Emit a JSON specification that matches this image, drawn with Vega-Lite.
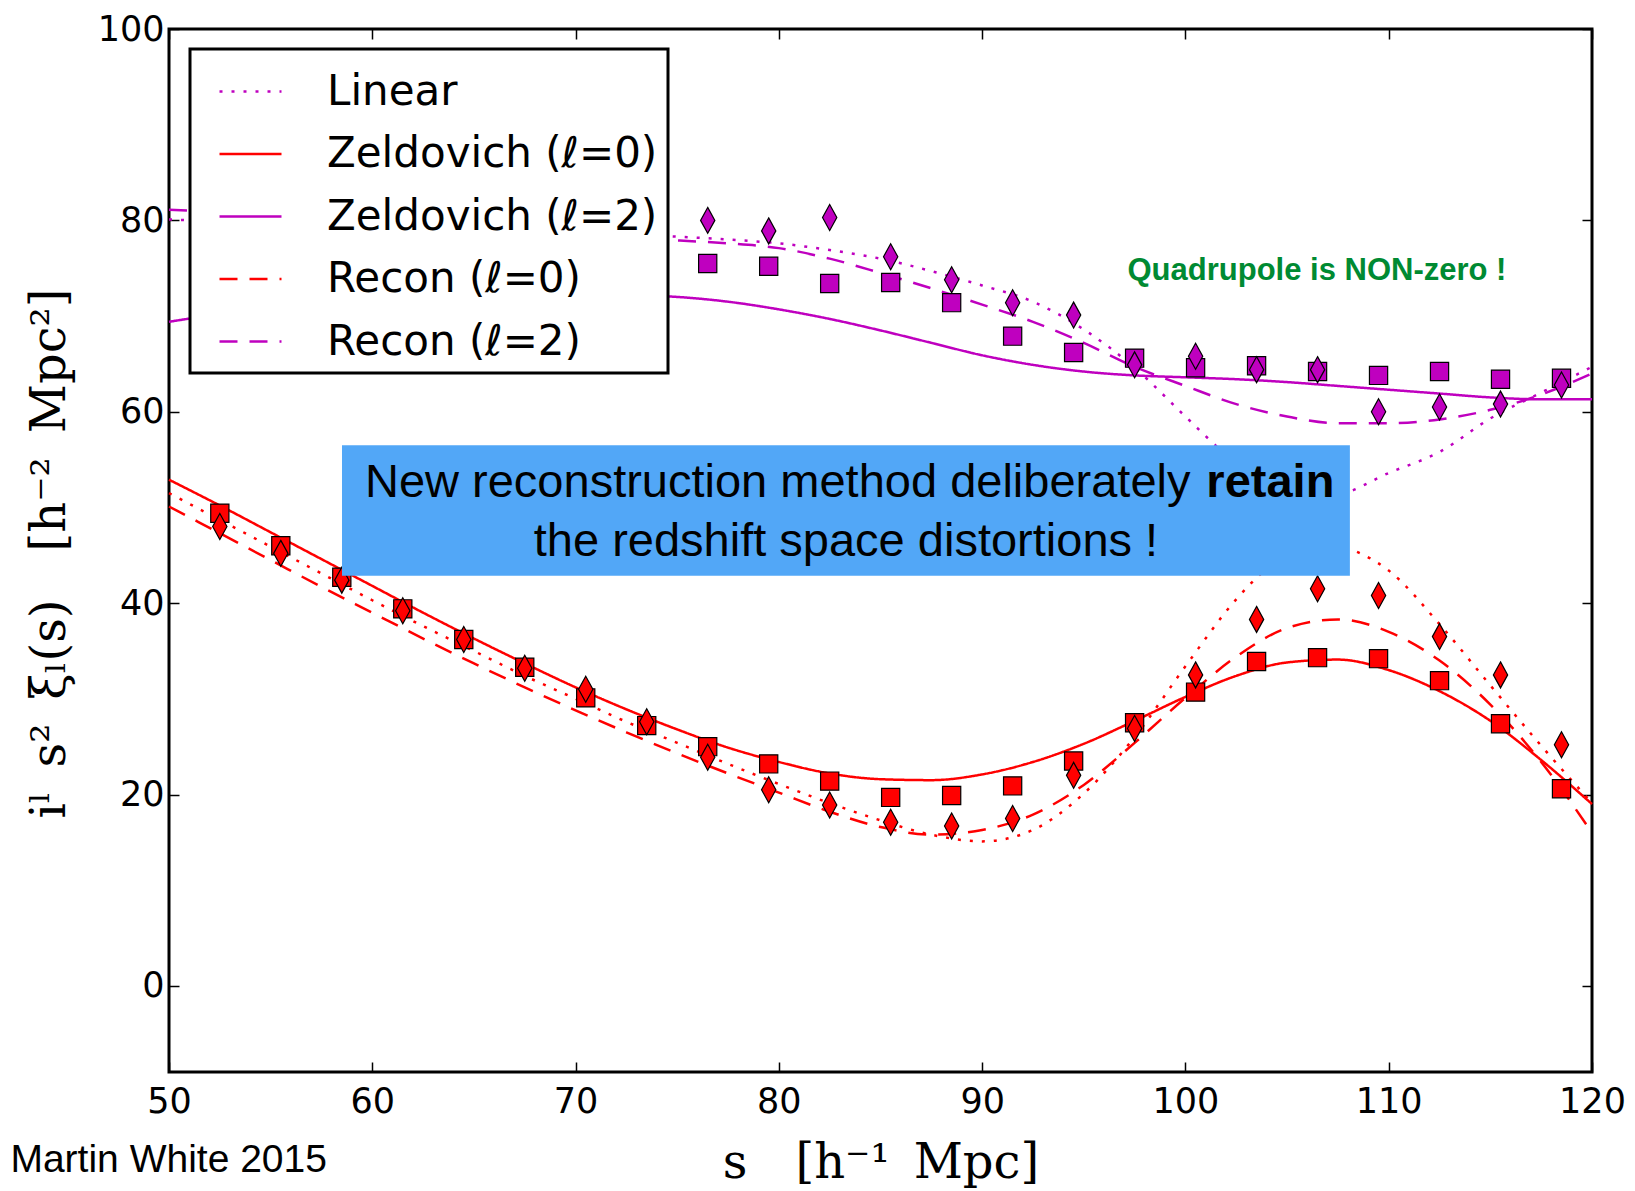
{
  "$schema": "https://vega.github.io/schema/vega-lite/v6.json",
  "width": 1423,
  "height": 1043,
  "autosize": {"type": "none"},
  "padding": {"left": 169, "top": 29, "right": 43, "bottom": 119},
  "background": "white",
  "datasets": {
    "lines": [
      {"series":"Linear","s":50,"v":80.1},{"series":"Linear","s":52.5,"v":79.9},{"series":"Linear","s":55,"v":79.8},{"series":"Linear","s":57.5,"v":79.6},{"series":"Linear","s":60,"v":79.5},{"series":"Linear","s":62.5,"v":79.3},{"series":"Linear","s":65,"v":79.1},{"series":"Linear","s":67.5,"v":78.9},{"series":"Linear","s":70,"v":78.7},{"series":"Linear","s":72.5,"v":78.5},{"series":"Linear","s":75,"v":78.3},{"series":"Linear","s":77.5,"v":78.0},{"series":"Linear","s":80,"v":77.6},{"series":"Linear","s":82.5,"v":76.9},{"series":"Linear","s":85,"v":76.0},{"series":"Linear","s":87.5,"v":74.7},{"series":"Linear","s":90,"v":73.2},{"series":"Linear","s":92.5,"v":71.5},{"series":"Linear","s":95,"v":68.6},{"series":"Linear","s":97.5,"v":64.6},{"series":"Linear","s":100,"v":59.5},{"series":"Linear","s":102,"v":55.5},{"series":"Linear","s":104,"v":52.3},{"series":"Linear","s":106,"v":51.0},{"series":"Linear","s":107.5,"v":51.3},{"series":"Linear","s":110,"v":53.6},{"series":"Linear","s":112.5,"v":55.8},{"series":"Linear","s":115,"v":59.3},{"series":"Linear","s":117.5,"v":62.0},{"series":"Linear","s":120,"v":64.7},
      {"series":"Zeldovich (ℓ=0)","s":50,"v":52.9},{"series":"Zeldovich (ℓ=0)","s":52.5,"v":50.2},{"series":"Zeldovich (ℓ=0)","s":55,"v":47.4},{"series":"Zeldovich (ℓ=0)","s":57.5,"v":44.6},{"series":"Zeldovich (ℓ=0)","s":60,"v":41.8},{"series":"Zeldovich (ℓ=0)","s":62.5,"v":39.0},{"series":"Zeldovich (ℓ=0)","s":65,"v":36.3},{"series":"Zeldovich (ℓ=0)","s":67.5,"v":33.7},{"series":"Zeldovich (ℓ=0)","s":70,"v":31.2},{"series":"Zeldovich (ℓ=0)","s":72.5,"v":28.9},{"series":"Zeldovich (ℓ=0)","s":75,"v":26.8},{"series":"Zeldovich (ℓ=0)","s":77.5,"v":24.9},{"series":"Zeldovich (ℓ=0)","s":80,"v":23.4},{"series":"Zeldovich (ℓ=0)","s":82.5,"v":22.2},{"series":"Zeldovich (ℓ=0)","s":85,"v":21.6},{"series":"Zeldovich (ℓ=0)","s":87.5,"v":21.5},{"series":"Zeldovich (ℓ=0)","s":90,"v":22.1},{"series":"Zeldovich (ℓ=0)","s":92.5,"v":23.4},{"series":"Zeldovich (ℓ=0)","s":95,"v":25.3},{"series":"Zeldovich (ℓ=0)","s":97.5,"v":27.7},{"series":"Zeldovich (ℓ=0)","s":100,"v":30.2},{"series":"Zeldovich (ℓ=0)","s":102.5,"v":32.4},{"series":"Zeldovich (ℓ=0)","s":105,"v":33.8},{"series":"Zeldovich (ℓ=0)","s":107.5,"v":34.1},{"series":"Zeldovich (ℓ=0)","s":110,"v":33.0},{"series":"Zeldovich (ℓ=0)","s":112.5,"v":30.8},{"series":"Zeldovich (ℓ=0)","s":115,"v":27.7},{"series":"Zeldovich (ℓ=0)","s":117.5,"v":23.6},{"series":"Zeldovich (ℓ=0)","s":120,"v":19.0},
      {"series":"Zeldovich (ℓ=2)","s":50,"v":69.4},{"series":"Zeldovich (ℓ=2)","s":52.5,"v":70.2},{"series":"Zeldovich (ℓ=2)","s":55,"v":70.8},{"series":"Zeldovich (ℓ=2)","s":57.5,"v":71.3},{"series":"Zeldovich (ℓ=2)","s":60,"v":71.7},{"series":"Zeldovich (ℓ=2)","s":62.5,"v":72.0},{"series":"Zeldovich (ℓ=2)","s":65,"v":72.2},{"series":"Zeldovich (ℓ=2)","s":67.5,"v":72.3},{"series":"Zeldovich (ℓ=2)","s":70,"v":72.3},{"series":"Zeldovich (ℓ=2)","s":72.5,"v":72.2},{"series":"Zeldovich (ℓ=2)","s":75,"v":72.0},{"series":"Zeldovich (ℓ=2)","s":77.5,"v":71.5},{"series":"Zeldovich (ℓ=2)","s":80,"v":70.7},{"series":"Zeldovich (ℓ=2)","s":82.5,"v":69.7},{"series":"Zeldovich (ℓ=2)","s":85,"v":68.5},{"series":"Zeldovich (ℓ=2)","s":87.5,"v":67.2},{"series":"Zeldovich (ℓ=2)","s":90,"v":65.9},{"series":"Zeldovich (ℓ=2)","s":92.5,"v":64.9},{"series":"Zeldovich (ℓ=2)","s":95,"v":64.2},{"series":"Zeldovich (ℓ=2)","s":97.5,"v":63.8},{"series":"Zeldovich (ℓ=2)","s":100,"v":63.6},{"series":"Zeldovich (ℓ=2)","s":102.5,"v":63.4},{"series":"Zeldovich (ℓ=2)","s":105,"v":63.1},{"series":"Zeldovich (ℓ=2)","s":107.5,"v":62.7},{"series":"Zeldovich (ℓ=2)","s":110,"v":62.3},{"series":"Zeldovich (ℓ=2)","s":112.5,"v":61.9},{"series":"Zeldovich (ℓ=2)","s":115,"v":61.5},{"series":"Zeldovich (ℓ=2)","s":117.5,"v":61.3},{"series":"Zeldovich (ℓ=2)","s":120,"v":61.3},
      {"series":"Recon (ℓ=0)","s":50,"v":50.1},{"series":"Recon (ℓ=0)","s":52.5,"v":47.3},{"series":"Recon (ℓ=0)","s":55,"v":44.5},{"series":"Recon (ℓ=0)","s":57.5,"v":41.7},{"series":"Recon (ℓ=0)","s":60,"v":39.0},{"series":"Recon (ℓ=0)","s":62.5,"v":36.3},{"series":"Recon (ℓ=0)","s":65,"v":33.7},{"series":"Recon (ℓ=0)","s":67.5,"v":31.2},{"series":"Recon (ℓ=0)","s":70,"v":28.8},{"series":"Recon (ℓ=0)","s":72.5,"v":26.5},{"series":"Recon (ℓ=0)","s":75,"v":24.3},{"series":"Recon (ℓ=0)","s":77.5,"v":22.2},{"series":"Recon (ℓ=0)","s":80,"v":20.2},{"series":"Recon (ℓ=0)","s":82.5,"v":18.2},{"series":"Recon (ℓ=0)","s":85,"v":16.6},{"series":"Recon (ℓ=0)","s":87.5,"v":15.8},{"series":"Recon (ℓ=0)","s":90,"v":16.3},{"series":"Recon (ℓ=0)","s":92.5,"v":17.9},{"series":"Recon (ℓ=0)","s":95,"v":21.0},{"series":"Recon (ℓ=0)","s":97.5,"v":25.4},{"series":"Recon (ℓ=0)","s":100,"v":30.1},{"series":"Recon (ℓ=0)","s":102.5,"v":34.4},{"series":"Recon (ℓ=0)","s":105,"v":37.4},{"series":"Recon (ℓ=0)","s":107.5,"v":38.3},{"series":"Recon (ℓ=0)","s":110,"v":37.0},{"series":"Recon (ℓ=0)","s":112.5,"v":34.0},{"series":"Recon (ℓ=0)","s":115,"v":29.4},{"series":"Recon (ℓ=0)","s":117.5,"v":23.4},{"series":"Recon (ℓ=0)","s":120,"v":16.0},
      {"series":"Recon (ℓ=2)","s":50,"v":81.1},{"series":"Recon (ℓ=2)","s":52.5,"v":80.9},{"series":"Recon (ℓ=2)","s":55,"v":80.6},{"series":"Recon (ℓ=2)","s":57.5,"v":80.3},{"series":"Recon (ℓ=2)","s":60,"v":80.0},{"series":"Recon (ℓ=2)","s":62.5,"v":79.6},{"series":"Recon (ℓ=2)","s":65,"v":79.2},{"series":"Recon (ℓ=2)","s":67.5,"v":78.8},{"series":"Recon (ℓ=2)","s":70,"v":78.4},{"series":"Recon (ℓ=2)","s":72.5,"v":78.1},{"series":"Recon (ℓ=2)","s":75,"v":77.9},{"series":"Recon (ℓ=2)","s":77.5,"v":77.6},{"series":"Recon (ℓ=2)","s":80,"v":77.1},{"series":"Recon (ℓ=2)","s":82.5,"v":76.0},{"series":"Recon (ℓ=2)","s":85,"v":74.5},{"series":"Recon (ℓ=2)","s":87.5,"v":72.9},{"series":"Recon (ℓ=2)","s":90,"v":71.2},{"series":"Recon (ℓ=2)","s":92.5,"v":69.4},{"series":"Recon (ℓ=2)","s":95,"v":67.2},{"series":"Recon (ℓ=2)","s":97.5,"v":64.7},{"series":"Recon (ℓ=2)","s":100,"v":62.7},{"series":"Recon (ℓ=2)","s":102.5,"v":60.8},{"series":"Recon (ℓ=2)","s":105,"v":59.5},{"series":"Recon (ℓ=2)","s":107.5,"v":58.8},{"series":"Recon (ℓ=2)","s":110,"v":58.8},{"series":"Recon (ℓ=2)","s":112.5,"v":59.2},{"series":"Recon (ℓ=2)","s":115,"v":60.2},{"series":"Recon (ℓ=2)","s":117.5,"v":61.8},{"series":"Recon (ℓ=2)","s":120,"v":64.0},
      {"series":"Linear (ℓ=0)","s":50,"v":51.5},{"series":"Linear (ℓ=0)","s":52.5,"v":48.7},{"series":"Linear (ℓ=0)","s":55,"v":45.9},{"series":"Linear (ℓ=0)","s":57.5,"v":43.1},{"series":"Linear (ℓ=0)","s":60,"v":40.3},{"series":"Linear (ℓ=0)","s":62.5,"v":37.6},{"series":"Linear (ℓ=0)","s":65,"v":35.0},{"series":"Linear (ℓ=0)","s":67.5,"v":32.4},{"series":"Linear (ℓ=0)","s":70,"v":30.0},{"series":"Linear (ℓ=0)","s":72.5,"v":27.6},{"series":"Linear (ℓ=0)","s":75,"v":25.4},{"series":"Linear (ℓ=0)","s":77.5,"v":23.2},{"series":"Linear (ℓ=0)","s":80,"v":21.1},{"series":"Linear (ℓ=0)","s":82.5,"v":19.1},{"series":"Linear (ℓ=0)","s":85,"v":17.3},{"series":"Linear (ℓ=0)","s":87.5,"v":15.8},{"series":"Linear (ℓ=0)","s":90,"v":15.1},{"series":"Linear (ℓ=0)","s":92.5,"v":16.3},{"series":"Linear (ℓ=0)","s":95,"v":20.1},{"series":"Linear (ℓ=0)","s":97.5,"v":26.0},{"series":"Linear (ℓ=0)","s":100,"v":33.4},{"series":"Linear (ℓ=0)","s":102.5,"v":40.4},{"series":"Linear (ℓ=0)","s":104,"v":43.6},{"series":"Linear (ℓ=0)","s":105.5,"v":45.6},{"series":"Linear (ℓ=0)","s":107,"v":46.2},{"series":"Linear (ℓ=0)","s":108.5,"v":45.3},{"series":"Linear (ℓ=0)","s":110,"v":43.4},{"series":"Linear (ℓ=0)","s":112.5,"v":37.8},{"series":"Linear (ℓ=0)","s":115,"v":31.4},{"series":"Linear (ℓ=0)","s":117.5,"v":25.1},{"series":"Linear (ℓ=0)","s":120,"v":19.1}
    ],
    "pts": [
      {"s":52.5,"v":49.4,"ell":"ℓ=0","est":"square"},{"s":55.5,"v":46.0,"ell":"ℓ=0","est":"square"},{"s":58.5,"v":42.7,"ell":"ℓ=0","est":"square"},{"s":61.5,"v":39.4,"ell":"ℓ=0","est":"square"},{"s":64.5,"v":36.2,"ell":"ℓ=0","est":"square"},{"s":67.5,"v":33.3,"ell":"ℓ=0","est":"square"},{"s":70.5,"v":30.1,"ell":"ℓ=0","est":"square"},{"s":73.5,"v":27.2,"ell":"ℓ=0","est":"square"},{"s":76.5,"v":25.0,"ell":"ℓ=0","est":"square"},{"s":79.5,"v":23.2,"ell":"ℓ=0","est":"square"},{"s":82.5,"v":21.4,"ell":"ℓ=0","est":"square"},{"s":85.5,"v":19.7,"ell":"ℓ=0","est":"square"},{"s":88.5,"v":19.9,"ell":"ℓ=0","est":"square"},{"s":91.5,"v":20.9,"ell":"ℓ=0","est":"square"},{"s":94.5,"v":23.5,"ell":"ℓ=0","est":"square"},{"s":97.5,"v":27.5,"ell":"ℓ=0","est":"square"},{"s":100.5,"v":30.7,"ell":"ℓ=0","est":"square"},{"s":103.5,"v":33.9,"ell":"ℓ=0","est":"square"},{"s":106.5,"v":34.3,"ell":"ℓ=0","est":"square"},{"s":109.5,"v":34.2,"ell":"ℓ=0","est":"square"},{"s":112.5,"v":31.9,"ell":"ℓ=0","est":"square"},{"s":115.5,"v":27.4,"ell":"ℓ=0","est":"square"},{"s":118.5,"v":20.6,"ell":"ℓ=0","est":"square"},
      {"s":76.5,"v":75.5,"ell":"ℓ=2","est":"square"},{"s":79.5,"v":75.2,"ell":"ℓ=2","est":"square"},{"s":82.5,"v":73.4,"ell":"ℓ=2","est":"square"},{"s":85.5,"v":73.5,"ell":"ℓ=2","est":"square"},{"s":88.5,"v":71.4,"ell":"ℓ=2","est":"square"},{"s":91.5,"v":67.9,"ell":"ℓ=2","est":"square"},{"s":94.5,"v":66.2,"ell":"ℓ=2","est":"square"},{"s":97.5,"v":65.6,"ell":"ℓ=2","est":"square"},{"s":100.5,"v":64.6,"ell":"ℓ=2","est":"square"},{"s":103.5,"v":64.8,"ell":"ℓ=2","est":"square"},{"s":106.5,"v":64.2,"ell":"ℓ=2","est":"square"},{"s":109.5,"v":63.8,"ell":"ℓ=2","est":"square"},{"s":112.5,"v":64.2,"ell":"ℓ=2","est":"square"},{"s":115.5,"v":63.4,"ell":"ℓ=2","est":"square"},{"s":118.5,"v":63.5,"ell":"ℓ=2","est":"square"},
      {"s":52.5,"v":48.0,"ell":"ℓ=0","est":"diamond"},{"s":55.5,"v":45.2,"ell":"ℓ=0","est":"diamond"},{"s":58.5,"v":42.4,"ell":"ℓ=0","est":"diamond"},{"s":61.5,"v":39.2,"ell":"ℓ=0","est":"diamond"},{"s":64.5,"v":36.2,"ell":"ℓ=0","est":"diamond"},{"s":67.5,"v":33.2,"ell":"ℓ=0","est":"diamond"},{"s":70.5,"v":31.0,"ell":"ℓ=0","est":"diamond"},{"s":73.5,"v":27.6,"ell":"ℓ=0","est":"diamond"},{"s":76.5,"v":23.9,"ell":"ℓ=0","est":"diamond"},{"s":79.5,"v":20.5,"ell":"ℓ=0","est":"diamond"},{"s":82.5,"v":18.9,"ell":"ℓ=0","est":"diamond"},{"s":85.5,"v":17.1,"ell":"ℓ=0","est":"diamond"},{"s":88.5,"v":16.7,"ell":"ℓ=0","est":"diamond"},{"s":91.5,"v":17.5,"ell":"ℓ=0","est":"diamond"},{"s":94.5,"v":22.0,"ell":"ℓ=0","est":"diamond"},{"s":97.5,"v":26.9,"ell":"ℓ=0","est":"diamond"},{"s":100.5,"v":32.5,"ell":"ℓ=0","est":"diamond"},{"s":103.5,"v":38.3,"ell":"ℓ=0","est":"diamond"},{"s":106.5,"v":41.5,"ell":"ℓ=0","est":"diamond"},{"s":109.5,"v":40.8,"ell":"ℓ=0","est":"diamond"},{"s":112.5,"v":36.5,"ell":"ℓ=0","est":"diamond"},{"s":115.5,"v":32.5,"ell":"ℓ=0","est":"diamond"},{"s":118.5,"v":25.2,"ell":"ℓ=0","est":"diamond"},
      {"s":76.5,"v":80.0,"ell":"ℓ=2","est":"diamond"},{"s":79.5,"v":78.9,"ell":"ℓ=2","est":"diamond"},{"s":82.5,"v":80.3,"ell":"ℓ=2","est":"diamond"},{"s":85.5,"v":76.2,"ell":"ℓ=2","est":"diamond"},{"s":88.5,"v":73.8,"ell":"ℓ=2","est":"diamond"},{"s":91.5,"v":71.4,"ell":"ℓ=2","est":"diamond"},{"s":94.5,"v":70.1,"ell":"ℓ=2","est":"diamond"},{"s":97.5,"v":64.9,"ell":"ℓ=2","est":"diamond"},{"s":100.5,"v":65.8,"ell":"ℓ=2","est":"diamond"},{"s":103.5,"v":64.4,"ell":"ℓ=2","est":"diamond"},{"s":106.5,"v":64.4,"ell":"ℓ=2","est":"diamond"},{"s":109.5,"v":60.0,"ell":"ℓ=2","est":"diamond"},{"s":112.5,"v":60.5,"ell":"ℓ=2","est":"diamond"},{"s":115.5,"v":60.8,"ell":"ℓ=2","est":"diamond"},{"s":118.5,"v":62.8,"ell":"ℓ=2","est":"diamond"}
    ]
  },
  "layer": [
    {
      "data": {"name": "lines"},
      "transform": [{"filter": "datum.series != 'Linear (ℓ=0)'"}],
      "mark": {"type": "line", "strokeWidth": 2.5, "interpolate": "monotone", "strokeCap": "butt"},
      "encoding": {
        "x": {"field": "s", "type": "quantitative", "scale": {"domain": [50, 120], "nice": false, "zero": false},
              "axis": {"orient": "bottom", "values": [50, 60, 70, 80, 90, 100, 110, 120], "title": "s\u2003[h⁻¹\u2002Mpc]", "labelPadding": 22, "titleY": 91, "titleBaseline": "middle"}},
        "y": {"field": "v", "type": "quantitative", "scale": {"domain": [-9, 100], "nice": false, "zero": false},
              "axis": {"orient": "left", "values": [0, 20, 40, 60, 80, 100], "title": "iˡ\u2002s²\u2002ξₗ(s)\u2003[h⁻²\u2002Mpc²]", "labelPadding": 15, "titleX": -119, "titleY": 524, "titleAngle": 270, "titleBaseline": "middle", "titleAlign": "center"}},
        "stroke": {"field": "series", "type": "nominal",
                   "scale": {"domain": ["Linear", "Zeldovich (ℓ=0)", "Zeldovich (ℓ=2)", "Recon (ℓ=0)", "Recon (ℓ=2)"], "range": ["#bf00bf", "#ff0000", "#bf00bf", "#ff0000", "#bf00bf"]},
                   "legend": {"title": null}},
        "strokeDash": {"field": "series", "type": "nominal",
                   "scale": {"domain": ["Linear", "Zeldovich (ℓ=0)", "Zeldovich (ℓ=2)", "Recon (ℓ=0)", "Recon (ℓ=2)"], "range": [[3, 9], [1, 0], [1, 0], [18, 12], [18, 12]]},
                   "legend": {"title": null}}
      }
    },
    {
      "data": {"name": "lines"},
      "transform": [{"filter": "datum.series == 'Linear (ℓ=0)'"}],
      "mark": {"type": "line", "strokeWidth": 2.5, "interpolate": "monotone", "stroke": "#ff0000", "strokeDash": [3, 9], "strokeCap": "butt"},
      "encoding": {
        "x": {"field": "s", "type": "quantitative", "scale": {"domain": [50, 120], "nice": false, "zero": false}, "axis": null},
        "y": {"field": "v", "type": "quantitative", "scale": {"domain": [-9, 100], "nice": false, "zero": false}, "axis": null}
      }
    },
    {
      "data": {"name": "pts"},
      "mark": {"type": "point", "filled": true, "stroke": "black", "strokeWidth": 1.2, "size": 676, "opacity": 1},
      "encoding": {
        "x": {"field": "s", "type": "quantitative", "scale": {"domain": [50, 120], "nice": false, "zero": false}, "axis": null},
        "y": {"field": "v", "type": "quantitative", "scale": {"domain": [-9, 100], "nice": false, "zero": false}, "axis": null},
        "fill": {"field": "ell", "type": "nominal", "scale": {"domain": ["ℓ=0", "ℓ=2"], "range": ["#ff0000", "#bf00bf"]}, "legend": null},
        "shape": {"field": "est", "type": "nominal", "scale": {"domain": ["square", "diamond"], "range": ["M-0.7,-0.7L0.7,-0.7L0.7,0.7L-0.7,0.7Z", "M0,-1L0.55,0L0,1L-0.55,0Z"]}, "legend": null}
      }
    },
    {
      "data": {"values": [{"s": 58.51, "s2": 108.09, "v": 56.5, "v2": 42.86}]},
      "mark": {"type": "rect", "fill": "#52a7f7"},
      "encoding": {
        "x": {"field": "s", "type": "quantitative", "scale": {"domain": [50, 120], "nice": false, "zero": false}, "axis": null},
        "x2": {"field": "s2"},
        "y": {"field": "v", "type": "quantitative", "scale": {"domain": [-9, 100], "nice": false, "zero": false}, "axis": null},
        "y2": {"field": "v2"}
      }
    },
    {
      "data": {"values": [{"s": 100.25, "v": 52.55, "label": "New reconstruction method deliberately"}]},
      "mark": {"type": "text", "align": "right", "baseline": "middle", "font": "Liberation Sans", "fontSize": 47, "fill": "black"},
      "encoding": {
        "x": {"field": "s", "type": "quantitative", "scale": {"domain": [50, 120], "nice": false, "zero": false}, "axis": null},
        "y": {"field": "v", "type": "quantitative", "scale": {"domain": [-9, 100], "nice": false, "zero": false}, "axis": null},
        "text": {"field": "label"}
      }
    },
    {
      "data": {"values": [{"s": 101.03, "v": 52.55, "label": "retain"}]},
      "mark": {"type": "text", "align": "left", "baseline": "middle", "font": "Liberation Sans", "fontSize": 47, "fontWeight": "bold", "fill": "black"},
      "encoding": {
        "x": {"field": "s", "type": "quantitative", "scale": {"domain": [50, 120], "nice": false, "zero": false}, "axis": null},
        "y": {"field": "v", "type": "quantitative", "scale": {"domain": [-9, 100], "nice": false, "zero": false}, "axis": null},
        "text": {"field": "label"}
      }
    },
    {
      "data": {"values": [{"s": 83.3, "v": 46.37, "label": "the redshift space distortions !"}]},
      "mark": {"type": "text", "align": "center", "baseline": "middle", "font": "Liberation Sans", "fontSize": 47, "fill": "black"},
      "encoding": {
        "x": {"field": "s", "type": "quantitative", "scale": {"domain": [50, 120], "nice": false, "zero": false}, "axis": null},
        "y": {"field": "v", "type": "quantitative", "scale": {"domain": [-9, 100], "nice": false, "zero": false}, "axis": null},
        "text": {"field": "label"}
      }
    },
    {
      "data": {"values": [{"s": 106.47, "v": 74.7, "label": "Quadrupole is NON-zero !"}]},
      "mark": {"type": "text", "align": "center", "baseline": "middle", "font": "Liberation Sans", "fontSize": 31, "fontWeight": "bold", "fill": "#008a32"},
      "encoding": {
        "x": {"field": "s", "type": "quantitative", "scale": {"domain": [50, 120], "nice": false, "zero": false}, "axis": null},
        "y": {"field": "v", "type": "quantitative", "scale": {"domain": [-9, 100], "nice": false, "zero": false}, "axis": null},
        "text": {"field": "label"}
      }
    },
    {
      "data": {"values": [{"s": 42.2, "v": -18.2, "label": "Martin White 2015"}]},
      "mark": {"type": "text", "align": "left", "baseline": "middle", "font": "Liberation Sans", "fontSize": 39, "fill": "black"},
      "encoding": {
        "x": {"field": "s", "type": "quantitative", "scale": {"domain": [50, 120], "nice": false, "zero": false}, "axis": null},
        "y": {"field": "v", "type": "quantitative", "scale": {"domain": [-9, 100], "nice": false, "zero": false}, "axis": null},
        "text": {"field": "label"}
      }
    },
    {
      "data": {"name": "pts"},
      "mark": {"type": "point", "opacity": 0},
      "encoding": {
        "x": {"field": "s", "type": "quantitative", "scale": {"domain": [50, 120], "nice": false, "zero": false},
              "axis": {"orient": "top", "values": [50, 60, 70, 80, 90, 100, 110, 120], "labels": false, "title": null}},
        "y": {"field": "v", "type": "quantitative", "scale": {"domain": [-9, 100], "nice": false, "zero": false},
              "axis": {"orient": "right", "values": [0, 20, 40, 60, 80, 100], "labels": false, "title": null}}
      }
    }
  ],
  "resolve": {"axis": {"x": "independent", "y": "independent"}},
  "config": {
    "view": {"stroke": "black", "strokeWidth": 3},
    "axis": {
      "domain": false, "grid": false, "ticks": true, "tickColor": "black", "tickWidth": 1.5, "tickSize": -10,
      "labelFont": "DejaVu Sans", "labelFontSize": 35, "labelColor": "black", "labelFlush": false, "labelOverlap": false,
      "titleFont": "DejaVu Serif", "titleFontSize": 48, "titleFontWeight": "normal", "titleColor": "black", "zindex": 1
    },
    "legend": {
      "orient": "none", "legendX": 21, "legendY": 20, "padding": 10, "fillColor": "white", "strokeColor": "black", "strokeWidth": 3,
      "labelFont": "DejaVu Sans", "labelFontSize": 42, "labelColor": "black", "labelLimit": 1000, "labelOffset": 44,
      "symbolSize": 3844, "symbolStrokeWidth": 2.5, "symbolType": "stroke", "symbolOffset": 18, "rowPadding": 8.5, "cornerRadius": 0
    }
  }
}
